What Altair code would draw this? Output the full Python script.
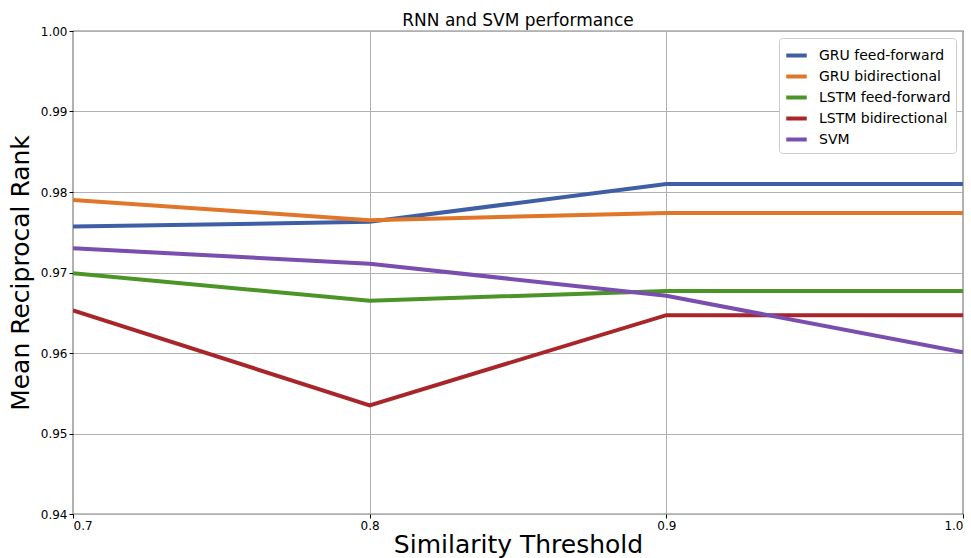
import altair as alt
import pandas as pd

thresholds = [0.7, 0.8, 0.9, 1.0]
series_names = ["GRU feed-forward", "GRU bidirectional", "LSTM feed-forward", "LSTM bidirectional", "SVM"]
gru_ff = [0.9757, 0.9763, 0.9810, 0.9810]
gru_bi = [0.9790, 0.9765, 0.9774, 0.9774]
lstm_ff = [0.9699, 0.9665, 0.9677, 0.9677]
lstm_bi = [0.9653, 0.9535, 0.9647, 0.9647]
svm = [0.9730, 0.9711, 0.9671, 0.9601]
colors = ["#3e5fa5", "#e0762a", "#4b9426", "#a8262a", "#7a4eae"]

rows = []
for name, vals in zip(series_names, [gru_ff, gru_bi, lstm_ff, lstm_bi, svm]):
    for t, v in zip(thresholds, vals):
        rows.append({"threshold": t, "mrr": v, "model": name})
df = pd.DataFrame(rows)

font = "DejaVu Sans"

chart = alt.Chart(df).mark_line(strokeWidth=4, clip=True).encode(
    x=alt.X("threshold:Q",
            scale=alt.Scale(domain=[0.7, 1.0], nice=False, zero=False),
            axis=alt.Axis(values=[0.7, 0.8, 0.9, 1.0], format=".1f",
                          title="Similarity Threshold", titleFontSize=25,
                          titleFontWeight="normal", titlePadding=1)),
    y=alt.Y("mrr:Q",
            scale=alt.Scale(domain=[0.94, 1.0], nice=False, zero=False),
            axis=alt.Axis(values=[0.94, 0.95, 0.96, 0.97, 0.98, 0.99, 1.0], format=".2f",
                          title="Mean Reciprocal Rank", titleFontSize=25,
                          titleFontWeight="normal", titlePadding=7)),
    color=alt.Color("model:N",
                    scale=alt.Scale(domain=series_names, range=colors),
                    sort=series_names,
                    legend=alt.Legend(title=None, orient="top-right", offset=7,
                                      symbolType="stroke", symbolStrokeWidth=4,
                                      symbolSize=420, labelFontSize=14,
                                      labelFont=font, fillColor="white",
                                      strokeColor="#cccccc", padding=5,
                                      cornerRadius=3, rowPadding=0,
                                      labelOffset=10,
                                      labelColor="black")),
).properties(
    width=890, height=483,
    title=alt.TitleParams("RNN and SVM performance", fontSize=17, fontWeight="normal",
                          font=font, color="black", offset=4, dy=9),
    autosize=alt.AutoSizeParams(type="none"),
    padding={"left": 73, "top": 31, "right": 8, "bottom": 44},
).configure_axis(
    labelFont=font, titleFont=font, labelFontSize=12, labelColor="black",
    titleColor="black", gridColor="#b0b0b0", gridWidth=1, domain=False,
    tickColor="black", tickSize=4,
).configure_view(stroke="black", strokeWidth=1.2)

chart.save("out.html", embed_options={"renderer": "svg", "actions": False})
